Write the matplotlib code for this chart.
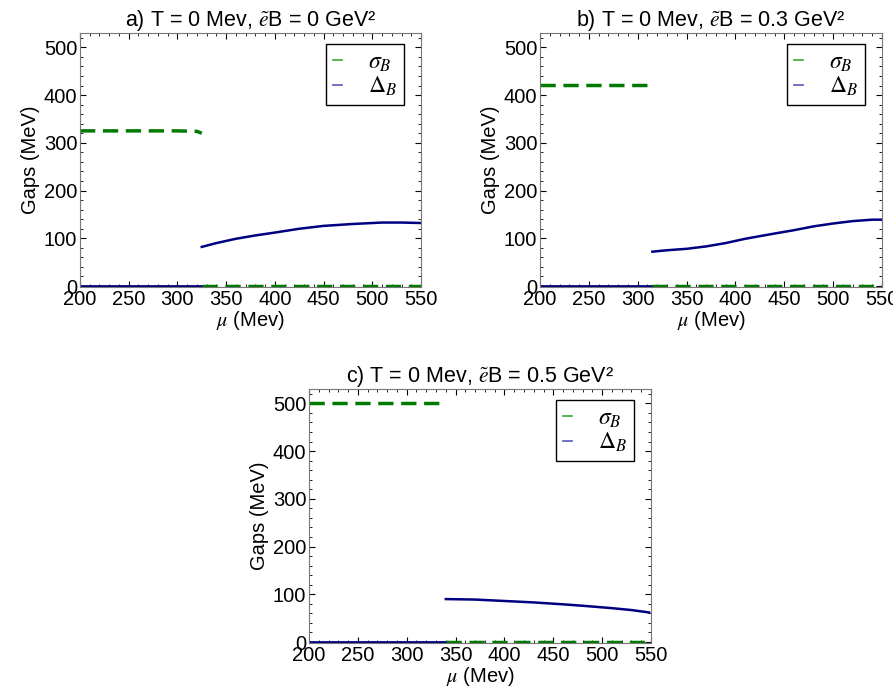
import matplotlib
matplotlib.use("Agg")
import matplotlib.pyplot as plt
from matplotlib.ticker import MultipleLocator

plt.rcParams["font.family"] = ["Liberation Sans", "DejaVu Sans"]
plt.rcParams["mathtext.fontset"] = "stix"

# panel a) eB = 0
mu_sigma_a = [200, 250, 300, 320, 325]
sigma_a = [325, 325, 325, 324, 320]
mu_sigma0_a = [325, 550]
sigma0_a = [0, 0]
mu_delta0_a = [200, 325]
delta0_a = [0, 0]
mu_delta_a = [325, 340, 360, 380, 400, 425, 450, 480, 510, 530, 550]
delta_a = [82, 90, 99, 106, 112, 120, 126, 130, 133, 133, 132]

# panel b) eB = 0.3
mu_sigma_b = [200, 250, 300, 315]
sigma_b = [421, 421, 421, 421]
mu_sigma0_b = [315, 550]
sigma0_b = [0, 0]
mu_delta0_b = [200, 315]
delta0_b = [0, 0]
mu_delta_b = [315, 330, 350, 370, 390, 410, 440, 460, 480, 500, 520, 540, 550]
delta_b = [72, 75, 78, 83, 90, 99, 110, 117, 125, 131, 136, 139, 139]

# panel c) eB = 0.5
mu_sigma_c = [200, 250, 300, 340]
sigma_c = [500, 500, 500, 500]
mu_sigma0_c = [340, 550]
sigma0_c = [0, 0]
mu_delta0_c = [200, 340]
delta0_c = [0, 0]
mu_delta_c = [340, 370, 400, 430, 460, 480, 510, 530, 548]
delta_c = [90, 89, 86, 83, 79, 76, 71, 67, 62]

titles = [
    r"a) T = 0 Mev, $\tilde{e}$B = 0 GeV²",
    r"b) T = 0 Mev, $\tilde{e}$B = 0.3 GeV²",
    r"c) T = 0 Mev, $\tilde{e}$B = 0.5 GeV²",
]

GREEN = "#007a00"
NAVY = "#000080"
FS = 14.5

fig = plt.figure(figsize=(8.93, 7.0), dpi=100)
W, H = 893.0, 700.0


def make_ax(left, top, right, bottom):
    return fig.add_axes([left / W, 1 - bottom / H, (right - left) / W, (bottom - top) / H])


axes = [
    make_ax(80, 33, 421, 287),
    make_ax(540, 33, 882, 287),
    make_ax(309, 389, 651, 643),
]

panels = [
    (mu_sigma_a, sigma_a, mu_sigma0_a, sigma0_a, mu_delta0_a, delta0_a, mu_delta_a, delta_a),
    (mu_sigma_b, sigma_b, mu_sigma0_b, sigma0_b, mu_delta0_b, delta0_b, mu_delta_b, delta_b),
    (mu_sigma_c, sigma_c, mu_sigma0_c, sigma0_c, mu_delta0_c, delta0_c, mu_delta_c, delta_c),
]

for ax, title, (ms, s, ms0, s0, md0, d0, md, d) in zip(axes, titles, panels):
    ax.plot(md0, d0, color=NAVY, lw=2.0)
    ax.plot(md, d, color=NAVY, lw=1.8)
    ax.plot(ms, s, color=GREEN, lw=2.5, dashes=(4.4, 2.2))
    ax.plot(ms0, s0, color=GREEN, lw=2.5, dashes=(4.4, 2.2))

    ax.set_xlim(200, 550)
    ax.set_ylim(-2, 530)
    ax.xaxis.set_major_locator(MultipleLocator(50))
    ax.xaxis.set_minor_locator(MultipleLocator(10))
    ax.yaxis.set_major_locator(MultipleLocator(100))
    ax.yaxis.set_minor_locator(MultipleLocator(20))
    ax.tick_params(which="both", direction="in", top=True, right=True, labelsize=FS, pad=2)
    ax.tick_params(which="major", length=4, width=0.8)
    ax.tick_params(which="minor", length=2, width=0.6)
    for sp in ax.spines.values():
        sp.set_color("#777777")

    ax.set_title(title, fontsize=15.5, pad=4)
    ax.set_ylabel("Gaps (MeV)", fontsize=FS, labelpad=3)
    ax.set_xlabel(r"$\mathit{\mu}$ (Mev)", fontsize=FS, labelpad=0)

    h1, = ax.plot([], [], color="#33aa33", lw=1.2)
    h2, = ax.plot([], [], color="#5555bb", lw=1.2)
    leg = ax.legend([h1, h2], [r"$\sigma_B$", r"$\Delta_B$"], loc="upper right",
                    fontsize=17, handlelength=0.35, handletextpad=1.1,
                    fancybox=False, framealpha=1, edgecolor="black",
                    borderpad=0.3, labelspacing=0.05, borderaxespad=0,
                    bbox_to_anchor=(0.95, 0.955))
    leg.get_frame().set_linewidth(1.0)

fig.savefig("out.png", dpi=100)
